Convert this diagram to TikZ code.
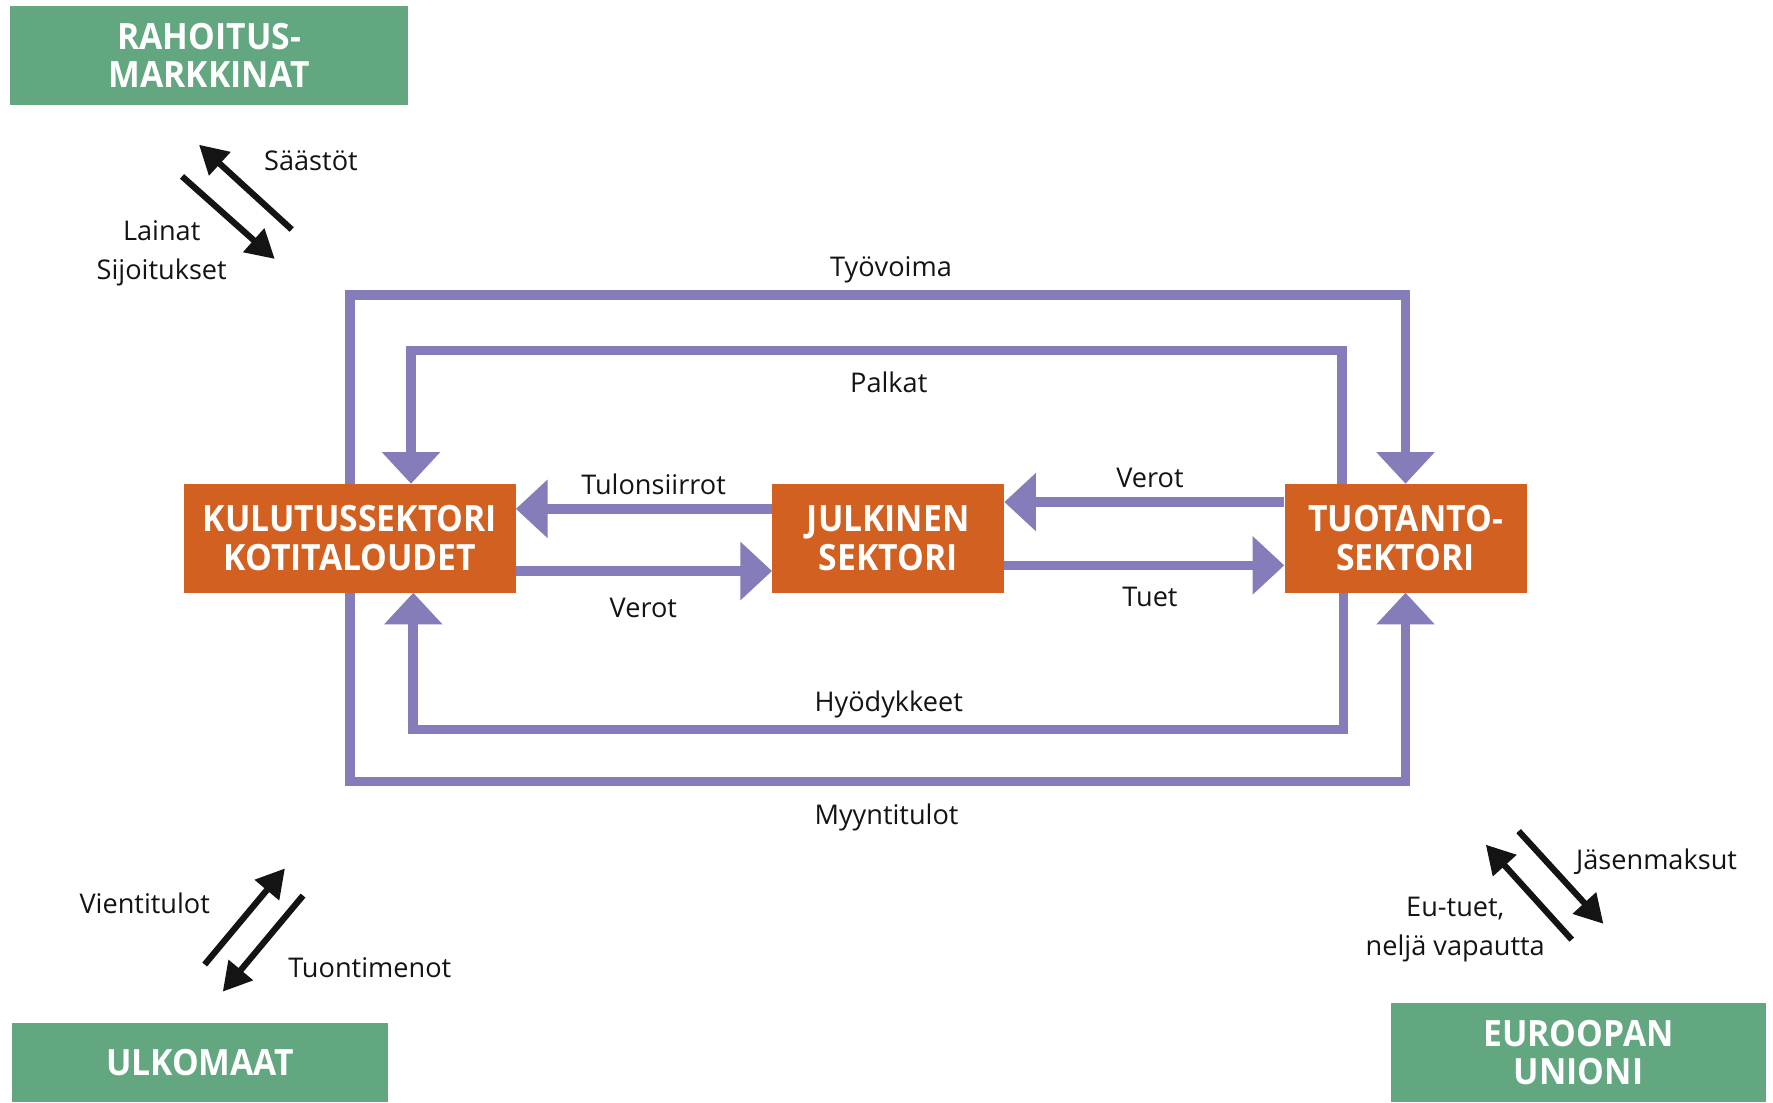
\documentclass[tikz,border=0pt]{standalone}
\usepackage{fontspec}
\setmainfont{Open Sans}
\newfontfamily\boxfont[FakeStretch=0.93]{Open Sans}
\usetikzlibrary{arrows.meta}
\definecolor{grn}{RGB}{98,167,127}
\definecolor{org}{RGB}{210,96,32}
\definecolor{pur}{RGB}{133,125,186}
\definecolor{ink}{RGB}{20,20,20}
\begin{document}
\begin{tikzpicture}[x=1pt,y=-1pt,
  sector/.style={fill=org, text=white, font=\boxfont\bfseries\fontsize{32}{34}\selectfont, align=center, inner sep=0pt, minimum height=96pt},
  world/.style={fill=grn, text=white, font=\boxfont\bfseries\fontsize{32}{34}\selectfont, align=center, inner sep=0pt},
  flow/.style={draw=pur, line width=8.5pt, -{Triangle[length=28pt,width=50pt]}},
  blk/.style={draw=ink, line width=5.5pt, -{Triangle[length=25pt,width=27pt]}},
  lbl/.style={font=\fontsize{24}{35}\selectfont, text=ink, inner sep=0pt, align=center}]
\useasboundingbox (0,0) rectangle (1568,975);

% sectors
\node[sector, minimum width=293pt] (kul) at (309.5,476) {KULUTUSSEKTORI\\KOTITALOUDET};
\node[sector, minimum width=205pt] (jul) at (785.5,476) {JULKINEN\\SEKTORI};
\node[sector, minimum width=214pt] (tuo) at (1243,476) {TUOTANTO-\\SEKTORI};

% outer world
\node[world, minimum width=352pt, minimum height=88pt] (rah) at (185,49) {RAHOITUS-\\MARKKINAT};
\node[world, minimum width=332pt, minimum height=70pt] (ulk) at (177,940) {ULKOMAAT};
\node[world, minimum width=332pt, minimum height=88pt] (eu) at (1396,931) {EUROOPAN\\UNIONI};

% loops
\draw[flow] (kul.north) -- (kul.north |- 0,261) -- (tuo.north |- 0,261) -- (tuo.north);
\draw[flow] ([xshift=-56pt]tuo.north) -- ([xshift=-56pt]tuo.north |- 0,310) -- ([xshift=54pt]kul.north |- 0,310) -- ([xshift=54pt]kul.north);
\draw[flow] ([xshift=-55pt]tuo.south) -- ([xshift=-55pt]tuo.south |- 0,645) -- ([xshift=56pt]kul.south |- 0,645) -- ([xshift=56pt]kul.south);
\draw[flow] (kul.south) -- (kul.south |- 0,691) -- (tuo.south |- 0,691) -- (tuo.south);

% horizontal flows
\draw[flow] (jul.west |- 0,450) -- (kul.east |- 0,450);
\draw[flow] (kul.east |- 0,505) -- (jul.west |- 0,505);
\draw[flow] (tuo.west |- 0,444) -- (jul.east |- 0,444);
\draw[flow] (jul.east |- 0,500) -- (tuo.west |- 0,500);

% flow labels
\node[lbl] (ltyo) at (788,239) {Työvoima};
\node[lbl] (lpal) at (786,338) {Palkat};
\node[lbl] (ltul) at (578,428) {Tulonsiirrot};
\node[lbl] (lver1) at (569,538) {Verot};
\node[lbl] (lver2) at (1017,423) {Verot};
\node[lbl] (ltue) at (1017,528) {Tuet};
\node[lbl] (lhyo) at (786,623) {Hyödykkeet};
\node[lbl] (lmyy) at (784,723) {Myyntitulot};

% financial markets
\coordinate (sa1) at (258,203); \coordinate (sa2) at (176,128);
\coordinate (la1) at (161,156); \coordinate (la2) at (243,229);
\draw[blk] (sa1) -- (sa2);
\draw[blk] (la1) -- (la2);
\node[lbl] (lsaa) at (275,142) {Säästöt};
\node[lbl] (llai) at (143,224) {Lainat\\Sijoitukset};

% foreign
\coordinate (vi1) at (181,853); \coordinate (vi2) at (252,768);
\coordinate (tu1) at (268,792); \coordinate (tu2) at (197,877);
\draw[blk] (vi1) -- (vi2);
\draw[blk] (tu1) -- (tu2);
\node[lbl] (lvie) at (128,799) {Vientitulot};
\node[lbl] (ltuo) at (327,856) {Tuontimenot};

% EU
\coordinate (eu1) at (1390,831); \coordinate (eu2) at (1314,747);
\coordinate (ja1) at (1343,735); \coordinate (ja2) at (1418,817);
\draw[blk] (eu1) -- (eu2);
\draw[blk] (ja1) -- (ja2);
\node[lbl] (ljas) at (1465,762) {Jäsenmaksut};
\node[lbl] (leut) at (1287,822) {Eu-tuet,\\neljä vapautta};
\end{tikzpicture}
\end{document}
